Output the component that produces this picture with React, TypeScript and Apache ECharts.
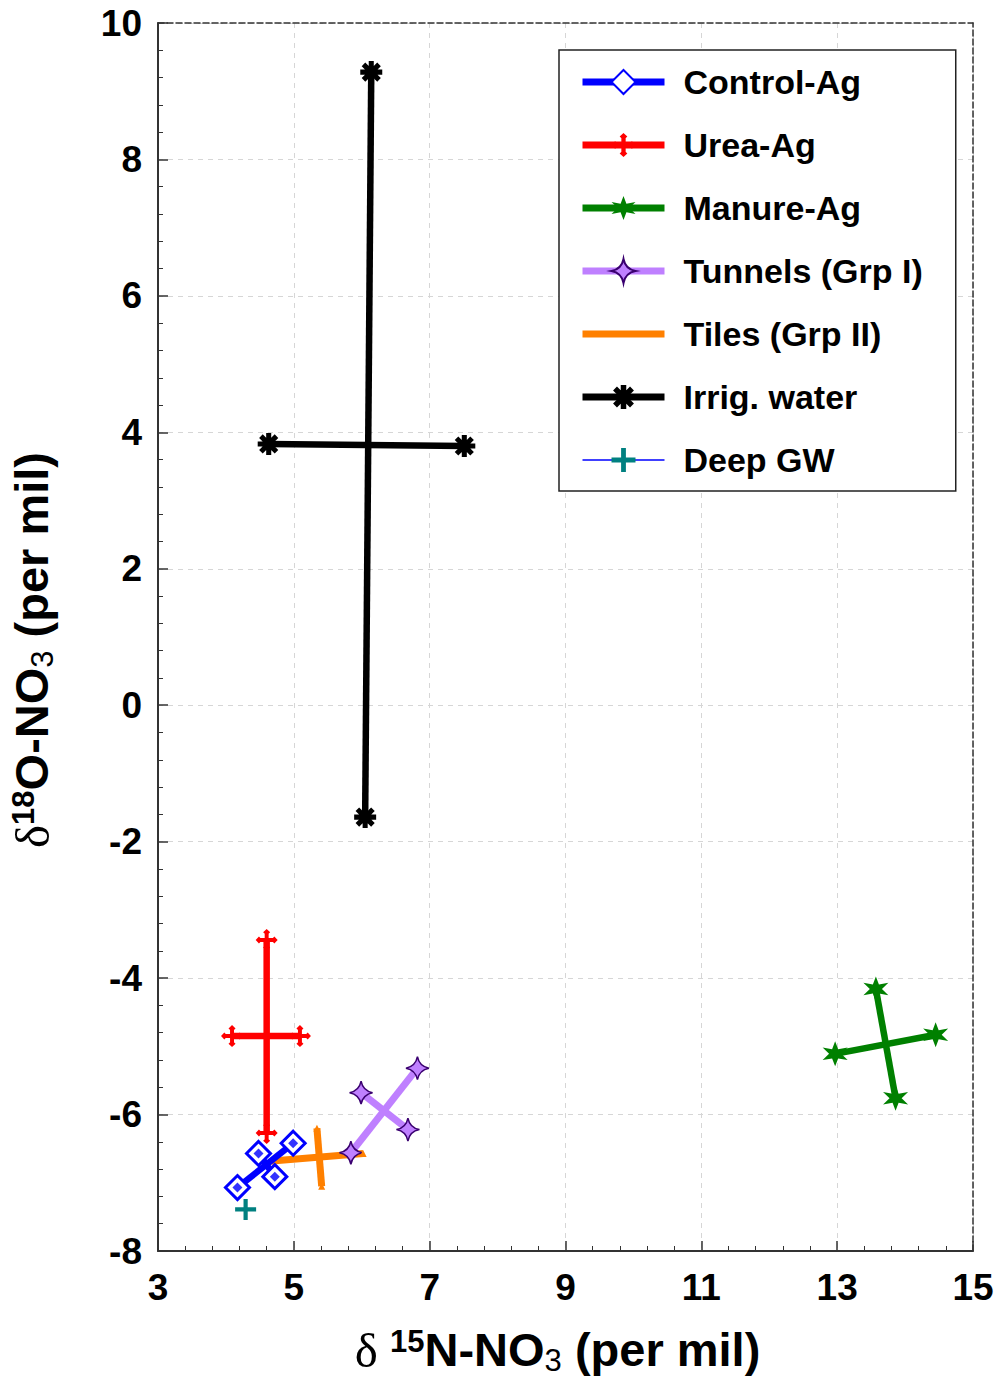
import React, { useEffect, useRef } from "react";
import * as echarts from "echarts";

// Axis ranges / ticks
const X_MIN = 3;
const X_MAX = 15;
const X_STEP = 2;
const Y_MIN = -8;
const Y_MAX = 10;
const Y_STEP = 2;

// Legend names
const NAMES = [
  "Control-Ag",
  "Urea-Ag",
  "Manure-Ag",
  "Tunnels (Grp I)",
  "Tiles (Grp II)",
  "Irrig. water",
  "Deep GW",
];

// Data: each group is a cross of two segments [x, y] (per mil)
const controlAgA = [[4.17, -7.07], [4.99, -6.42]];
const controlAgB = [[4.48, -6.57], [4.72, -6.91]];
const ureaAgV = [[4.6, -3.44], [4.6, -6.27]];
const ureaAgH = [[4.09, -4.85], [5.09, -4.85]];
const manureAgA = [[13.57, -4.16], [13.86, -5.76]];
const manureAgB = [[12.97, -5.11], [14.45, -4.83]];
const tunnelsA = [[5.84, -6.56], [6.82, -5.32]];
const tunnelsB = [[5.99, -5.68], [6.68, -6.22]];
const tilesV = [[5.34, -6.2], [5.41, -7.05]];
const tilesH = [[4.68, -6.68], [6.02, -6.57]];
const irrigV = [[6.14, 9.28], [6.05, -1.64]];
const irrigH = [[4.63, 3.83], [7.51, 3.8]];
const deepGW = [[4.29, -7.39]];

// marker shapes
function starPath(points: number, outer: number, inner: number) {
  let d = "";
  for (let i = 0; i < points * 2; i++) {
    const r = i % 2 === 0 ? outer : inner;
    const a = -Math.PI / 2 + (i * Math.PI) / points;
    d += (i === 0 ? "M" : "L") + (r * Math.cos(a)).toFixed(2) + "," + (r * Math.sin(a)).toFixed(2) + " ";
  }
  return "path://" + d + "Z";
}
function asteriskPath(bars: number, len: number, w: number) {
  let d = "";
  for (let k = 0; k < bars; k++) {
    const a = (k * Math.PI) / bars;
    const c = Math.cos(a);
    const s = Math.sin(a);
    const pts = [[-len, -w], [len, -w], [len, w], [-len, w]].map(
      ([x, y]) => [(x * c - y * s).toFixed(2), (x * s + y * c).toFixed(2)]
    );
    d += "M" + pts.map((p) => p.join(",")).join(" L") + " Z ";
  }
  return "path://" + d;
}
const UREA_SYMBOL =
  "path://M-7,-1.8 L7,-1.8 L7,1.8 L-7,1.8 Z M-1.8,-7 L1.8,-7 L1.8,7 L-1.8,7 Z " +
  "M7,-3.2 L10,0 L7,3.2 L4,0 Z M-7,-3.2 L-4,0 L-7,3.2 L-10,0 Z " +
  "M0,-10 L3.2,-7 L0,-4 L-3.2,-7 Z M0,4 L3.2,7 L0,10 L-3.2,7 Z";
const MANURE_SYMBOL = starPath(6, 10, 4.2);
const TUNNEL_SYMBOL = "path://M0,-10 Q1.6,-1.6 10,0 Q1.6,1.6 0,10 Q-1.6,1.6 -10,0 Q-1.6,-1.6 0,-10 Z";
const IRRIG_SYMBOL = asteriskPath(4, 10, 2.3);
const PLUS_SYMBOL =
  "path://M-1.6,-8 L1.6,-8 L1.6,-1.6 L8,-1.6 L8,1.6 L1.6,1.6 L1.6,8 L-1.6,8 L-1.6,1.6 L-8,1.6 L-8,-1.6 L-1.6,-1.6 Z";

const FONT = "Liberation Sans, Arial, sans-serif";

function seg(
  name: string,
  data: number[][],
  color: string,
  width: number,
  symbol: string,
  symbolSize: number,
  itemStyle: any,
  z: number
) {
  return {
    type: "line",
    name,
    data,
    z,
    symbol,
    symbolSize,
    showSymbol: true,
    showAllSymbol: true,
    silent: true,
    lineStyle: { color, width, cap: "butt" },
    itemStyle,
    emphasis: { disabled: true },
  };
}

const SUB_LH = 50;
const richTitle = {
  d: { fontFamily: "Liberation Serif, serif", fontSize: 49, fontWeight: "normal", lineHeight: 47, verticalAlign: "top", color: "#000" },
  sup: { fontFamily: FONT, fontSize: 31, fontWeight: "bold", lineHeight: 31, verticalAlign: "top", color: "#000" },
  b: { fontFamily: FONT, fontSize: 47, fontWeight: "bold", lineHeight: 47, verticalAlign: "top", color: "#000" },
  sub: { fontFamily: FONT, fontSize: 31, fontWeight: "normal", lineHeight: SUB_LH, verticalAlign: "bottom", color: "#000" },
};

export default function App() {
  const ref = useRef<HTMLDivElement>(null);
  useEffect(() => {
    if (!ref.current) return;
    const chart = echarts.init(ref.current, null, { renderer: "svg" });
    const blue = "#0000ff";
    const red = "#ff0000";
    const green = "#008000";
    const purple = "#bf80ff";
    const orange = "#ff8000";
    const black = "#000000";
    const teal = "#008080";

    const controlStyle = { color: "#ffffff", borderColor: blue, borderWidth: 3 };
    const series: any[] = [
      seg(NAMES[5], irrigV, black, 6.5, IRRIG_SYMBOL, 22, { color: black }, 2),
      seg(NAMES[5], irrigH, black, 6.5, IRRIG_SYMBOL, 22, { color: black }, 2),
      seg(NAMES[2], manureAgA, green, 6.5, MANURE_SYMBOL, 25, { color: green }, 3),
      seg(NAMES[2], manureAgB, green, 6.5, MANURE_SYMBOL, 25, { color: green }, 3),
      seg(NAMES[1], ureaAgV, red, 6.5, UREA_SYMBOL, 22, { color: red }, 3),
      seg(NAMES[1], ureaAgH, red, 6.5, UREA_SYMBOL, 22, { color: red }, 3),
      seg(NAMES[3], tunnelsA, purple, 7, TUNNEL_SYMBOL, 23, { color: purple, borderColor: "#3a0070", borderWidth: 1.5 }, 3),
      seg(NAMES[3], tunnelsB, purple, 7, TUNNEL_SYMBOL, 23, { color: purple, borderColor: "#3a0070", borderWidth: 1.5 }, 3),
      seg(NAMES[4], tilesV, orange, 7, "triangle", 7, { color: orange }, 3),
      seg(NAMES[4], tilesH, orange, 7, "triangle", 7, { color: orange }, 3),
      seg(NAMES[0], controlAgA, blue, 6.5, "diamond", 24, controlStyle, 4),
      seg(NAMES[0], controlAgB, blue, 6.5, "diamond", 24, controlStyle, 4),
      {
        type: "scatter",
        name: "Control-Ag core",
        data: [...controlAgA, ...controlAgB],
        symbol: "diamond",
        symbolSize: 10,
        itemStyle: { color: blue },
        z: 5,
        silent: true,
      },
      {
        type: "line",
        name: NAMES[6],
        data: deepGW,
        symbol: PLUS_SYMBOL,
        symbolSize: 21,
        showSymbol: true,
        showAllSymbol: true,
        lineStyle: { color: blue, width: 1.5 },
        itemStyle: { color: teal },
        z: 5,
        silent: true,
      },
    ];

    const axisLabel = { fontFamily: FONT, fontSize: 37, fontWeight: "bold", color: "#000" };
    const splitLine = { show: true, lineStyle: { color: "#d6d6d6", width: 1, type: [5, 5] } };

    chart.setOption({
      animation: false,
      backgroundColor: "#ffffff",
      grid: { left: 158, right: 31, top: 23, bottom: 137, containLabel: false },
      legend: {
        data: NAMES.map((n) => {
          if (n === "Tiles (Grp II)") return { name: n, itemStyle: { opacity: 0 } };
          if (n === "Deep GW") return { name: n, lineStyle: { width: 1.5 } };
          return { name: n };
        }),
        orient: "vertical",
        left: 559,
        top: 50,
        itemWidth: 82,
        itemHeight: 30,
        itemGap: 29,
        padding: [15, 33, 14, 20],
        borderColor: "#222",
        borderWidth: 1.5,
        backgroundColor: "#ffffff",
        selectedMode: false,
        lineStyle: { width: 7 },
        textStyle: { fontFamily: FONT, fontSize: 34, fontWeight: "bold", color: "#000", padding: [0, 0, 0, 14] },
      },
      xAxis: [
        {
          type: "value",
          min: X_MIN,
          max: X_MAX,
          interval: X_STEP,
          position: "bottom",
          name: "{d|δ }{sup|15}{b|N-NO}{sub|3}{b| (per mil)}",
          nameLocation: "middle",
          nameGap: 75,
          nameTextStyle: { rich: richTitle, padding: [0, 16, 0, 0] },
          axisLine: { show: true, onZero: false, lineStyle: { color: "#333", width: 2 } },
          axisTick: { show: true, inside: true, length: 10, lineStyle: { color: "#333", width: 1.5 } },
          minorTick: { show: true, splitNumber: 5, length: 5, lineStyle: { color: "#333", width: 1 } },
          axisLabel: { ...axisLabel, margin: 18 },
          splitLine,
        },
        {
          type: "value",
          min: X_MIN,
          max: X_MAX,
          interval: X_STEP,
          position: "top",
          axisLine: { show: true, onZero: false, lineStyle: { color: "#333", width: 1.5, type: [6, 3] } },
          axisTick: { show: false },
          axisLabel: { show: false },
          splitLine: { show: false },
        },
      ],
      yAxis: [
        {
          type: "value",
          min: Y_MIN,
          max: Y_MAX,
          interval: Y_STEP,
          position: "left",
          name: "{d|δ}{sup|18}{b|O-NO}{sub|3}{b| (per mil)}",
          nameLocation: "middle",
          nameGap: 100,
          nameTextStyle: { rich: richTitle, padding: [0, 26, 0, 0] },
          axisLine: { show: true, onZero: false, lineStyle: { color: "#333", width: 2 } },
          axisTick: { show: true, inside: true, length: 10, lineStyle: { color: "#333", width: 1.5 } },
          minorTick: { show: true, splitNumber: 5, length: 5, lineStyle: { color: "#333", width: 1 } },
          axisLabel: { ...axisLabel, margin: 16 },
          splitLine,
        },
        {
          type: "value",
          min: Y_MIN,
          max: Y_MAX,
          interval: Y_STEP,
          position: "right",
          axisLine: { show: true, onZero: false, lineStyle: { color: "#333", width: 1.5, type: [6, 3] } },
          axisTick: { show: false },
          axisLabel: { show: false },
          splitLine: { show: false },
        },
      ],
      series,
    });
    return () => chart.dispose();
  }, []);
  return (
    <div
      ref={ref}
      style={{ position: "fixed", left: 0, top: 0, width: 1004, height: 1388, background: "#fff" }}
    />
  );
}
